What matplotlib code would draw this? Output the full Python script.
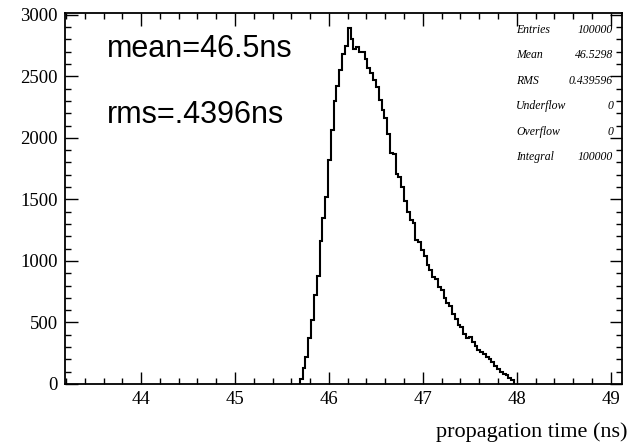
import numpy as np
import matplotlib.pyplot as plt
from matplotlib.ticker import MultipleLocator

# histogram content, bin width 0.03 ns
bin_lo = 45.69
bin_w = 0.03
counts = [40, 130, 220, 370, 520, 720, 880, 1160, 1350, 1520,
          1820, 2060, 2300, 2420, 2550, 2680, 2750, 2890, 2800, 2720,
          2740, 2700, 2700, 2640, 2570, 2530, 2470, 2410, 2310, 2230,
          2160, 2030, 1880, 1870, 1710, 1680, 1600, 1490, 1400, 1330,
          1310, 1170, 1150, 1090, 1040, 970, 930, 870, 850, 790,
          760, 700, 660, 630, 570, 530, 480, 460, 410, 370,
          380, 340, 310, 280, 260, 240, 220, 200, 180, 150,
          120, 100, 80, 70, 50, 30]
edges = bin_lo + bin_w * np.arange(len(counts) + 1)

stat_names = ['Entries', 'Mean', 'RMS', 'Underflow', 'Overflow', 'Integral']
stat_values = ['100000', '46.5298', '0.439596', '0', '0', '100000']

fig = plt.figure(figsize=(6.31, 4.47), dpi=100)
ax = fig.add_axes([0.103, 0.141, 0.8827, 0.830])

ax.stairs(counts, edges, color='black', linewidth=1.5)

ax.set_xlim(43.19, 49.12)
ax.set_ylim(0, 3015)
ax.xaxis.set_major_locator(MultipleLocator(1))
ax.xaxis.set_minor_locator(MultipleLocator(0.2))
ax.yaxis.set_major_locator(MultipleLocator(500))
ax.yaxis.set_minor_locator(MultipleLocator(100))
ax.tick_params(which='both', direction='in', top=True, right=True,
               labelfontfamily='Liberation Serif', labelsize=13.5, colors='black')
ax.tick_params(which='major', length=9, width=1.0, pad=5)
ax.tick_params(which='minor', length=4.5, width=1.0)
for s in ax.spines.values():
    s.set_linewidth(1.3)

fig.text(0.995, 0.022, 'propagation time (ns)', ha='right', va='baseline',
         family='Liberation Serif', fontsize=16)

ax.text(0.075, 0.881, 'mean=46.5ns', transform=ax.transAxes, ha='left', va='baseline',
        family='Liberation Sans', fontsize=22)
ax.text(0.075, 0.7035, 'rms=.4396ns', transform=ax.transAxes, ha='left', va='baseline',
        family='Liberation Sans', fontsize=22)

for i, (name, val) in enumerate(zip(stat_names, stat_values)):
    y = 1 - (30 + 25.4 * i) / 447
    fig.text(516 / 631, y, name, ha='left', va='center', style='italic',
             family='Liberation Serif', fontsize=8.5)
    fig.text(613 / 631, y, val, ha='right', va='center', style='italic',
             family='Liberation Serif', fontsize=8.5)

fig.savefig('out.png', dpi=100)
